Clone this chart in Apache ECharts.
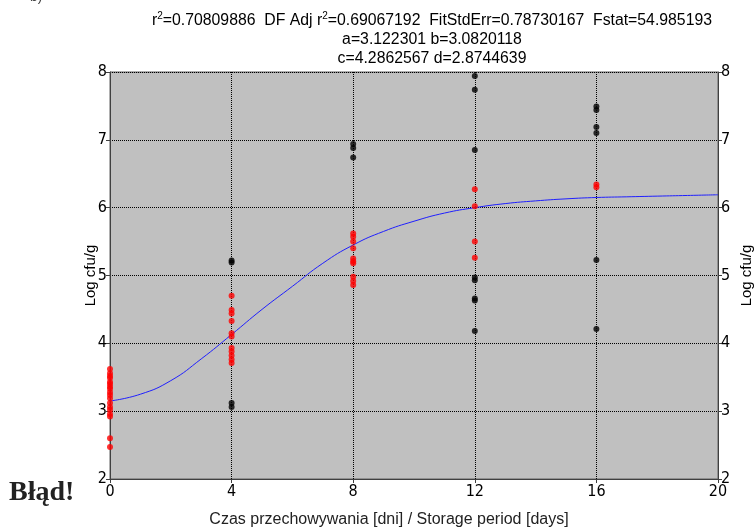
<!DOCTYPE html>
<html>
<head>
<meta charset="utf-8">
<script src="https://cdn.jsdelivr.net/npm/echarts@6/dist/echarts.min.js"></script>
<style>
  html, body { margin: 0; padding: 0; background: #fff; }
  #chart { width: 755px; height: 531px; }
</style>
</head>
<body>
<div id="chart"></div>
<script>
  // odczyty z wykresu
  var blackPts = [
    [4, 5.22], [4, 5.19], [4, 3.12], [4, 3.06],
    [8, 6.94], [8, 6.88], [8, 6.74],
    [12, 7.94], [12, 7.74], [12, 6.85], [12, 4.97], [12, 4.93], [12, 4.66], [12, 4.63], [12, 4.18],
    [16, 7.49], [16, 7.44], [16, 7.19], [16, 7.10], [16, 5.23], [16, 4.21]
  ]
  var redPts = [
    [0, 3.62], [0, 3.56], [0, 3.52], [0, 3.49], [0, 3.43], [0, 3.40], [0, 3.36], [0, 3.33],
    [0, 3.28], [0, 3.24], [0, 3.19], [0, 3.12], [0, 3.06], [0, 3.02], [0, 2.96], [0, 2.92],
    [0, 2.60], [0, 2.47],
    [4, 4.70], [4, 4.49], [4, 4.44], [4, 4.33], [4, 4.15], [4, 4.10], [4, 3.93], [4, 3.88],
    [4, 3.82], [4, 3.76], [4, 3.71],
    [8, 5.62], [8, 5.57], [8, 5.50], [8, 5.40], [8, 5.25], [8, 5.21], [8, 5.18], [8, 4.98], [8, 4.92], [8, 4.86],
    [12, 6.27], [12, 6.02], [12, 5.50], [12, 5.26],
    [16, 6.34], [16, 6.30]
  ]
  // krzywa dopasowania, odczytana co 1 dzien
  var fitX = [0, 1, 2, 3, 4, 5, 6, 7, 8, 9, 10, 11, 12, 13, 14, 15, 16, 17, 18, 19, 20]
  var fitY = [3.15, 3.25, 3.45, 3.77, 4.13, 4.50, 4.84, 5.18, 5.45, 5.65, 5.80, 5.92, 6.00, 6.06, 6.10, 6.13, 6.15, 6.16, 6.17, 6.18, 6.19]
  var xTicks = [0, 4, 8, 12, 16, 20]
  var titleLines = [
    'r{s|2}=0.70809886  DF Adj r{s|2}=0.69067192  FitStdErr=0.78730167  Fstat=54.985193',
    'a=3.122301 b=3.0820118',
    'c=4.2862567 d=2.8744639'
  ]

  var fitData = []
  for (var i = 0; i < fitX.length; i++) {
    fitData.push([fitX[i], fitY[i]])
  }

  var tickFont = {
    color: '#000',
    fontFamily: '"Liberation Sans Narrow", "DejaVu Sans Condensed", sans-serif',
    fontSize: 16
  }

  var chart = echarts.init(document.getElementById('chart'))
  var option = {
    backgroundColor: '#fff',
    animation: false,
    title: {
      text: titleLines.join('\n'),
      left: 427,
      top: 6,
      textAlign: 'center',
      textStyle: {
        fontFamily: 'Liberation Sans, Arial, sans-serif',
        fontSize: 15.8,
        fontWeight: 'normal',
        color: '#000',
        lineHeight: 19,
        rich: {
          s: { fontSize: 10, lineHeight: 19, verticalAlign: 'top', fontFamily: 'Liberation Sans, Arial, sans-serif', color: '#000' }
        }
      }
    },
    grid: {
      left: 110,
      right: 37,
      top: 72,
      bottom: 52,
      containLabel: false,
      outerBoundsMode: 'none',
      show: true,
      backgroundColor: '#c0c0c0',
      borderColor: '#606060',
      borderWidth: 1
    },
    xAxis: {
      type: 'value',
      min: 0,
      max: 20,
      interval: 4,
      axisLine: { show: true, onZero: false, lineStyle: { color: '#404040', width: 1 } },
      axisTick: { show: true, length: 4, lineStyle: { color: '#404040' } },
      axisLabel: Object.assign({ margin: 5, formatter: function (v) { return xTicks.indexOf(v) >= 0 ? String(v) : '' } }, tickFont),
      splitLine: { show: true, lineStyle: { color: '#000', type: 'dotted', width: 1 } }
    },
    yAxis: [
      {
        type: 'value',
        min: 2,
        max: 8,
        interval: 1,
        name: 'Log cfu/g',
        nameLocation: 'middle',
        nameGap: 12,
        nameMoveOverlap: false,
        nameTextStyle: { fontFamily: 'Liberation Sans, Arial, sans-serif', fontSize: 15, color: '#000' },
        axisLine: { show: true, lineStyle: { color: '#404040', width: 1 } },
        axisTick: { show: true, length: 4, lineStyle: { color: '#404040' } },
        axisLabel: Object.assign({ margin: 3 }, tickFont),
        splitLine: { show: true, lineStyle: { color: '#000', type: 'dotted', width: 1 } }
      },
      {
        type: 'value',
        position: 'right',
        min: 2,
        max: 8,
        interval: 1,
        name: 'Log cfu/g',
        nameLocation: 'middle',
        nameGap: 21,
        nameRotate: 90,
        nameMoveOverlap: false,
        nameTextStyle: { fontFamily: 'Liberation Sans, Arial, sans-serif', fontSize: 15, color: '#000' },
        axisLine: { show: true, lineStyle: { color: '#404040', width: 1 } },
        axisTick: { show: true, length: 4, lineStyle: { color: '#404040' } },
        axisLabel: Object.assign({ margin: 3 }, tickFont),
        splitLine: { show: false }
      }
    ],
    series: [
      {
        type: 'line',
        data: fitData,
        smooth: true,
        symbol: 'none',
        lineStyle: { color: '#1f1fff', width: 1 },
        z: 2
      },
      {
        type: 'scatter',
        data: blackPts,
        symbolSize: 6,
        itemStyle: { color: '#000' },
        z: 3
      },
      {
        type: 'scatter',
        data: redPts,
        symbolSize: 6,
        itemStyle: { color: '#ff0000' },
        z: 3
      }
    ],
    graphic: [
      {
        type: 'text',
        left: 9,
        top: 479,
        style: {
          text: 'Błąd!',
          font: 'bold 28px "Liberation Serif", "DejaVu Serif Condensed", serif',
          fill: '#222'
        }
      },
      {
        type: 'text',
        x: 389,
        y: 520,
        style: {
          text: 'Czas przechowywania [dni] / Storage period [days]',
          font: '16px "Liberation Sans", Arial, sans-serif',
          fill: '#222',
          textAlign: 'center',
          textVerticalAlign: 'middle'
        }
      },
      {
        type: 'text',
        x: 30,
        y: -10,
        style: {
          text: 'b)',
          font: '14px "Liberation Sans", Arial, sans-serif',
          fill: '#444'
        }
      }
    ]
  }
  chart.setOption(option)
</script>
</body>
</html>
